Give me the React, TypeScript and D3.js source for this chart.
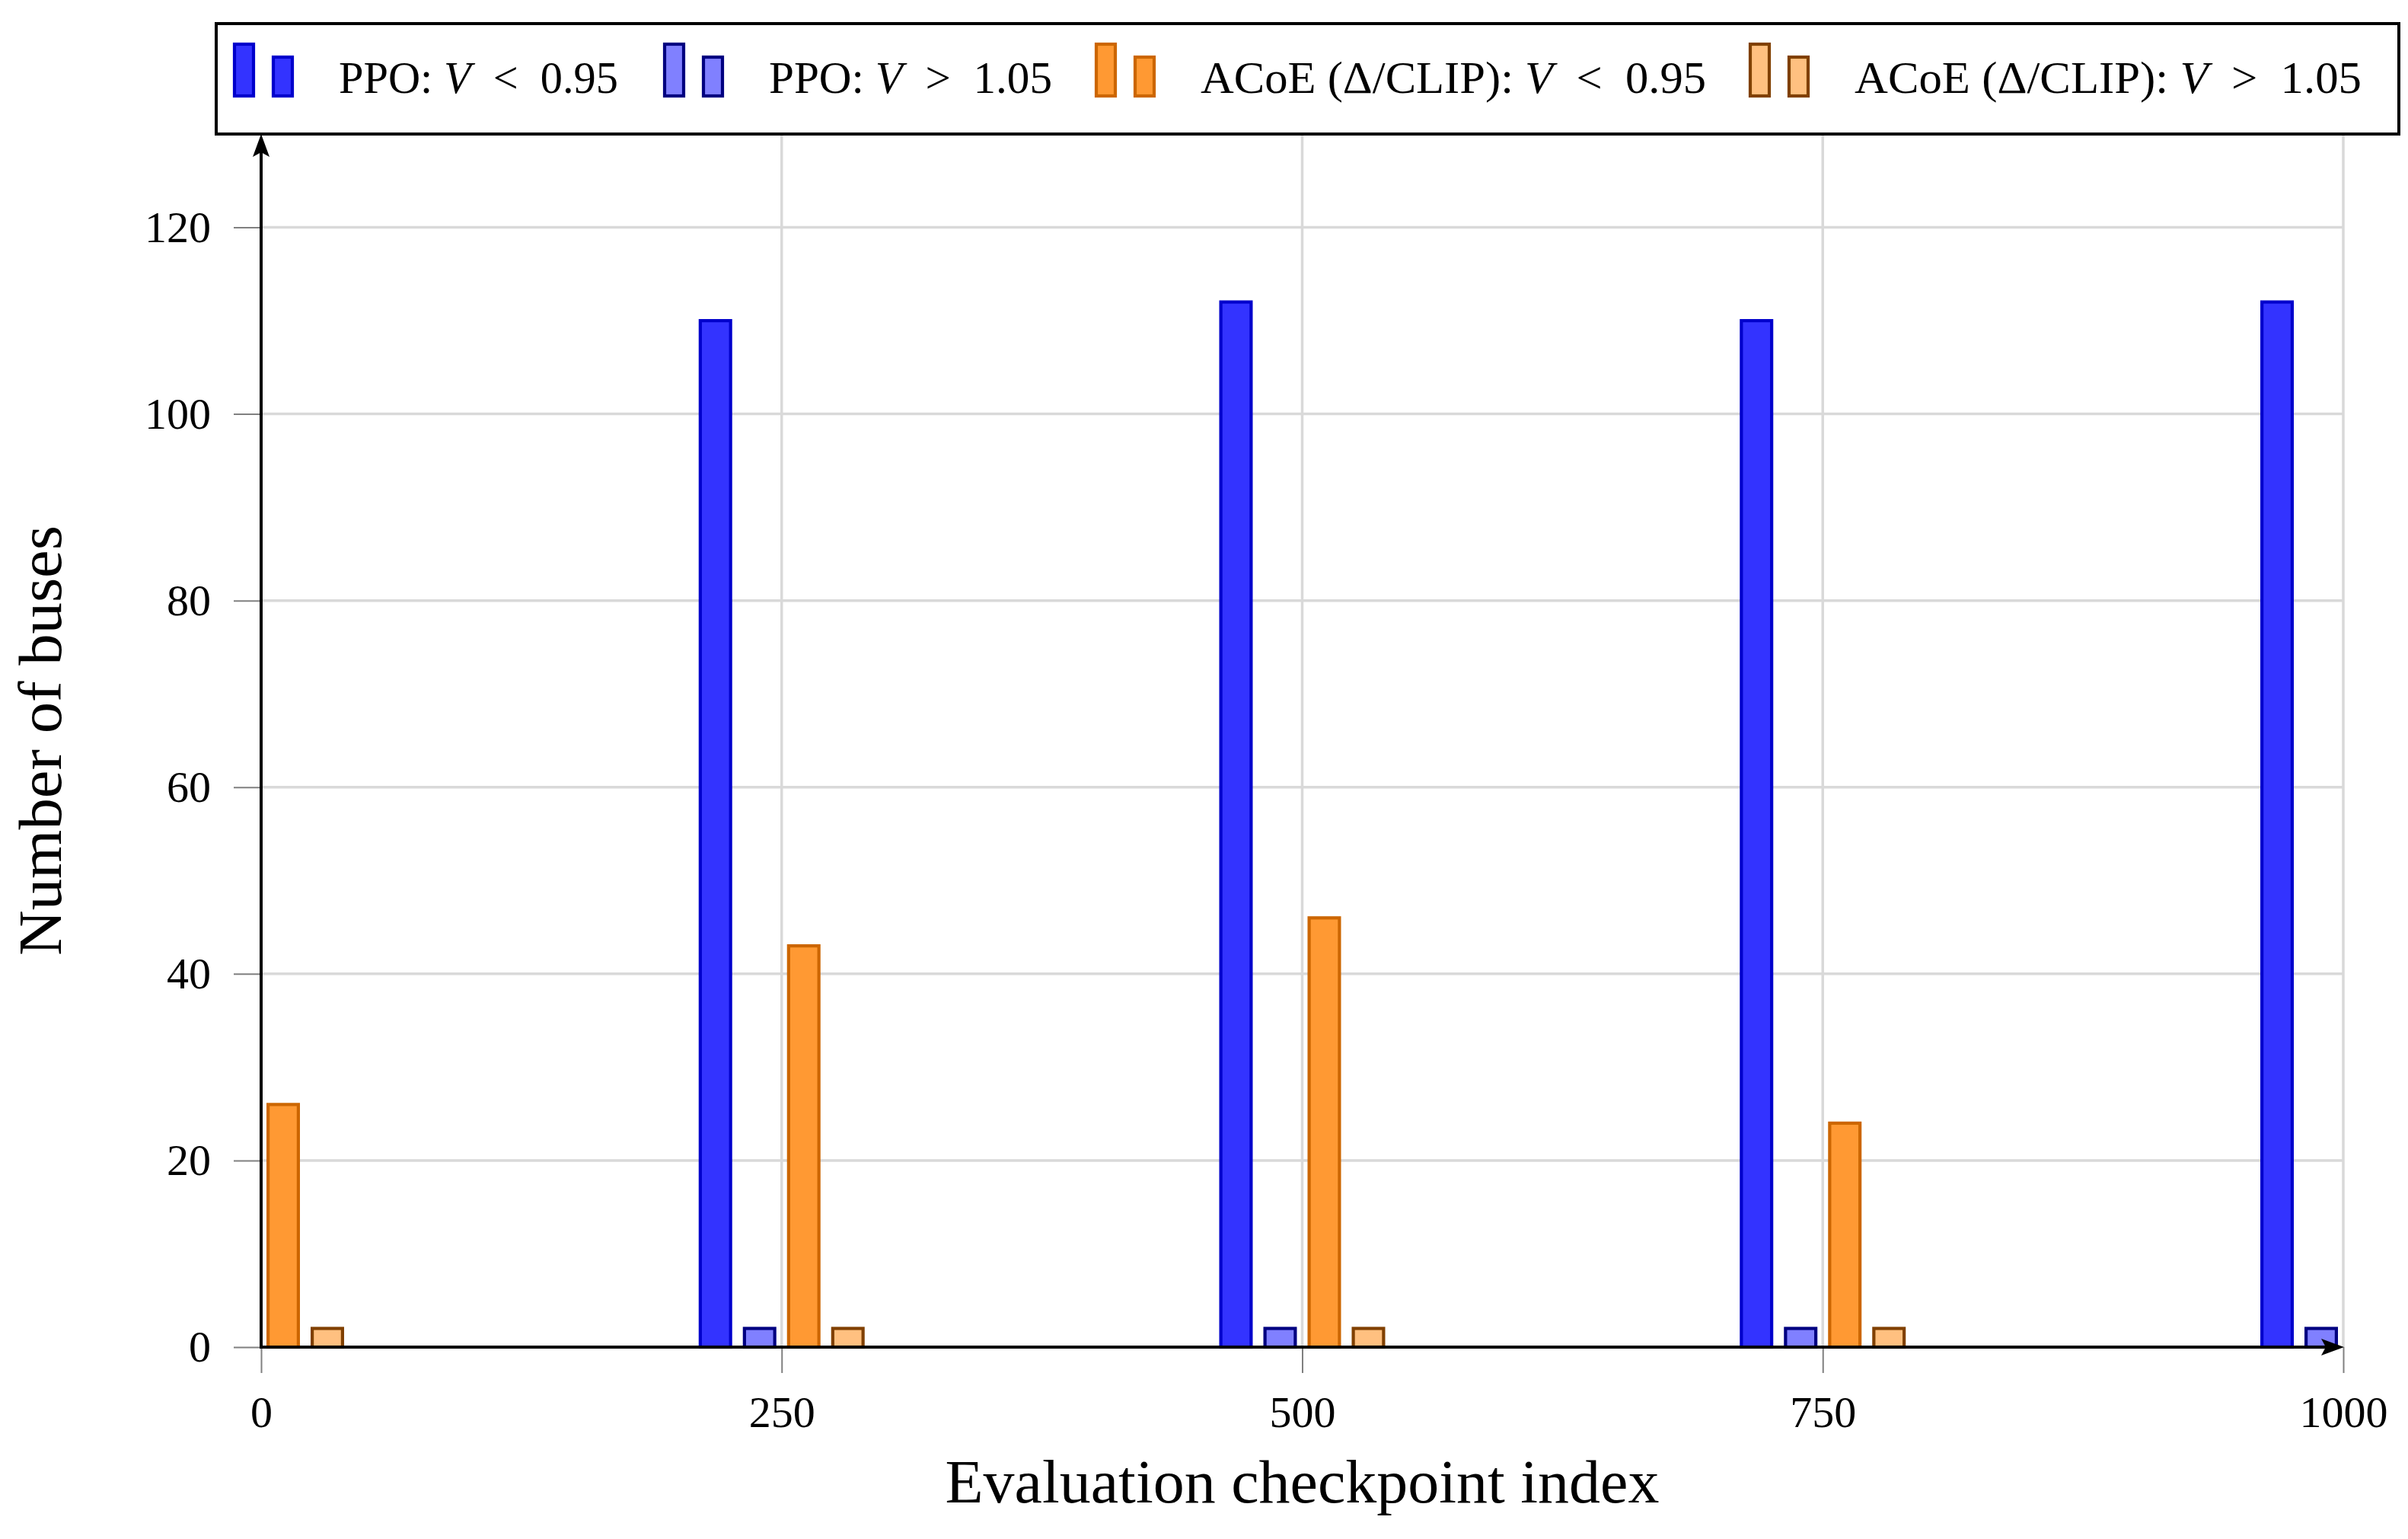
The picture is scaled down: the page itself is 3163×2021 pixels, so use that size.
import * as React from 'react';
import { scaleLinear, select, axisLeft, axisBottom } from 'd3';

// checkpoints and bar heights
const checkpoints = [0, 250, 500, 750, 1000];
const ppoLow = [null, 110, 112, 110, 112];
const ppoHigh = [null, 2, 2, 2, 2];
const acoeLow = [26, 43, 46, 24, null];
const acoeHigh = [2, 2, 2, 2, null];

const xTicks = [0, 250, 500, 750, 1000];
const yTicks = [0, 20, 40, 60, 80, 100, 120];

const seriesPrefix = ['PPO: ', 'PPO: ', 'ACoE (\u0394/CLIP): ', 'ACoE (\u0394/CLIP): '];
const seriesRelation = ['  <  0.95', '  >  1.05', '  <  0.95', '  >  1.05'];

const xLabel = 'Evaluation checkpoint index';
const yLabel = 'Number of buses';

const fills = ['#3333ff', '#8080ff', '#ff9933', '#ffc080'];
const strokes = ['#0000cc', '#000080', '#cc6600', '#804000'];

const W = 3163;
const H = 2021;
const FONT = '"Liberation Serif", "Times New Roman", serif';

export default class App extends React.Component<{}, {}> {
    node: SVGSVGElement | null = null;

    componentDidMount() {
        const svg = select(this.node);
        svg.selectAll('*').remove();

        const x = scaleLinear().domain([0, 1000]).range([343, 3078]);
        const y = scaleLinear().domain([0, 130]).range([1769, 176]);
        const series = [ppoLow, ppoHigh, acoeLow, acoeHigh];
        const step = 58;
        const sw = 4.2;
        const barW = 44 - sw;

        // grid
        const grid = svg.append('g').attr('stroke', '#d9d9d9').attr('stroke-width', 3.5);
        grid.selectAll('line.h')
            .data(yTicks.filter((d) => d > 0))
            .enter().append('line')
            .attr('x1', x(0)).attr('x2', x(1000))
            .attr('y1', (d) => y(d)).attr('y2', (d) => y(d));
        grid.selectAll('line.v')
            .data(xTicks.filter((d) => d > 0))
            .enter().append('line')
            .attr('x1', (d) => x(d)).attr('x2', (d) => x(d))
            .attr('y1', y(0)).attr('y2', y(130));

        // bars
        series.forEach((vals, s) => {
            const g = svg.append('g');
            const pts = checkpoints.map((c, i) => ({ c, v: vals[i] })).filter((d) => d.v !== null);
            g.selectAll('rect')
                .data(pts)
                .enter().append('rect')
                .attr('x', (d) => x(d.c) + (s - 1.5) * step - barW / 2)
                .attr('y', (d) => y(d.v as number))
                .attr('width', barW)
                .attr('height', (d) => y(0) - y(d.v as number))
                .attr('fill', fills[s])
                .attr('stroke', strokes[s])
                .attr('stroke-width', sw);
        });

        // axes (ticks + labels)
        const yAx = svg.append('g')
            .attr('transform', `translate(${x(0)},0)`)
            .call(axisLeft(y).tickValues(yTicks).tickSize(36).tickPadding(30).tickFormat((d) => String(d)));
        yAx.select('.domain').remove();
        yAx.selectAll('.tick line').attr('stroke', '#808080').attr('stroke-width', 2);
        yAx.selectAll('.tick text').attr('font-family', FONT).attr('font-size', 58).attr('fill', '#000');

        const xAx = svg.append('g')
            .attr('transform', `translate(0,${y(0)})`)
            .call(axisBottom(x).tickValues(xTicks).tickSize(34).tickPadding(30).tickFormat((d) => String(d)));
        xAx.select('.domain').remove();
        xAx.selectAll('.tick line').attr('stroke', '#808080').attr('stroke-width', 2);
        xAx.selectAll('.tick text').attr('font-family', FONT).attr('font-size', 58).attr('fill', '#000');

        // axis lines with stealth arrows
        const axis = svg.append('g');
        axis.append('line')
            .attr('x1', x(0)).attr('x2', x(0))
            .attr('y1', y(0) + 2).attr('y2', y(130) + 20)
            .attr('stroke', '#000').attr('stroke-width', 4);
        axis.append('line')
            .attr('x1', x(0) - 2).attr('x2', x(1000) - 20)
            .attr('y1', y(0)).attr('y2', y(0))
            .attr('stroke', '#000').attr('stroke-width', 4);
        const tx = x(0);
        const ty = y(130);
        axis.append('path')
            .attr('d', `M${tx},${ty} L${tx + 11},${ty + 30} L${tx},${ty + 24} L${tx - 11},${ty + 30} Z`)
            .attr('fill', '#000');
        const rx = x(1000) + 1;
        const ry = y(0);
        axis.append('path')
            .attr('d', `M${rx},${ry} L${rx - 30},${ry - 11} L${rx - 24},${ry} L${rx - 30},${ry + 11} Z`)
            .attr('fill', '#000');

        // axis titles
        svg.append('text')
            .attr('x', (x(0) + x(1000)) / 2)
            .attr('y', 1973)
            .attr('text-anchor', 'middle')
            .attr('font-family', FONT)
            .attr('font-size', 80)
            .attr('textLength', 938)
            .attr('lengthAdjust', 'spacingAndGlyphs')
            .text(xLabel);
        svg.append('text')
            .attr('transform', `translate(80,${(y(0) + y(130)) / 2}) rotate(-90)`)
            .attr('text-anchor', 'middle')
            .attr('font-family', FONT)
            .attr('font-size', 80)
            .attr('textLength', 565)
            .attr('lengthAdjust', 'spacingAndGlyphs')
            .text(yLabel);

        // legend
        const legend = svg.append('g');
        legend.append('rect')
            .attr('x', 284).attr('y', 31)
            .attr('width', 2867).attr('height', 145)
            .attr('fill', '#fff').attr('stroke', '#000').attr('stroke-width', 4);
        const entryX = [306, 871, 1438, 2297];
        const textLen = [367, 372, 664, 666];
        series.forEach((_, s) => {
            const ex = entryX[s];
            const g = legend.append('g').attr('transform', `translate(${ex},0)`);
            g.append('rect')
                .attr('x', 2).attr('y', 58).attr('width', 25).attr('height', 68)
                .attr('fill', fills[s]).attr('stroke', strokes[s]).attr('stroke-width', sw);
            g.append('rect')
                .attr('x', 53).attr('y', 75).attr('width', 25).attr('height', 51)
                .attr('fill', fills[s]).attr('stroke', strokes[s]).attr('stroke-width', sw);
            const t = g.append('text')
                .attr('x', 139).attr('y', 122)
                .attr('font-family', FONT)
                .attr('font-size', 60)
                .attr('xml:space', 'preserve')
                .style('white-space', 'pre')
                .attr('textLength', textLen[s])
                .attr('lengthAdjust', 'spacingAndGlyphs');
            t.append('tspan').text(seriesPrefix[s]);
            t.append('tspan').attr('font-style', 'italic').text('V');
            t.append('tspan').text(seriesRelation[s]);
        });
    }

    render() {
        return (
            <svg
                ref={(node) => { this.node = node; }}
                width={W}
                height={H}
                style={{ position: 'absolute', left: 0, top: 0, background: '#fff' }}
            />
        );
    }
}
